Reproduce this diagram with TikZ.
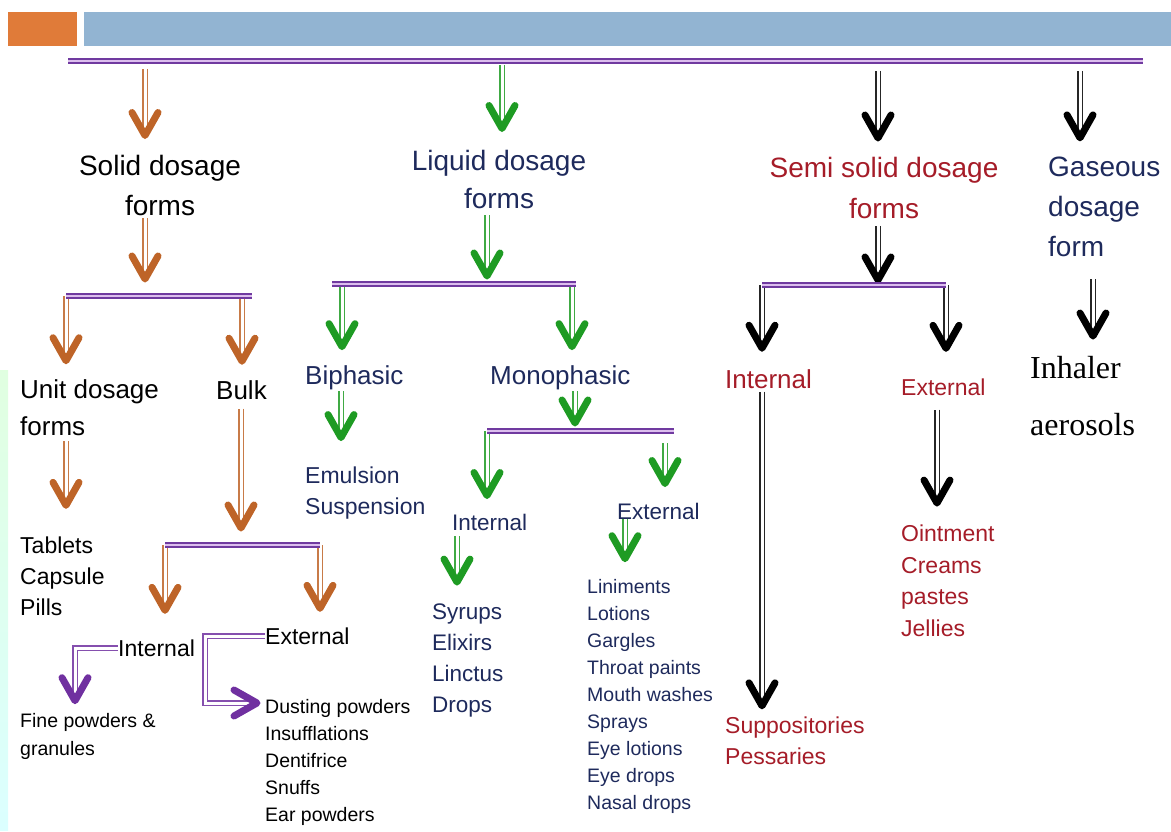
\documentclass[tikz,border=0pt]{standalone}
\usepackage{fontspec}
\setmainfont{Liberation Sans}
\newfontfamily\serifo{Liberation Serif}
\usetikzlibrary{calc,decorations.markings}
\definecolor{cabec}{RGB}{224,123,57}
\definecolor{faixa}{RGB}{146,180,210}
\definecolor{barra}{RGB}{112,58,160}
\definecolor{barrain}{RGB}{220,190,238}
\definecolor{laranja}{RGB}{190,100,40}
\definecolor{verde}{RGB}{30,155,35}
\definecolor{roxo}{RGB}{112,48,160}
\definecolor{azulesc}{RGB}{30,42,92}
\definecolor{vermesc}{RGB}{165,28,40}
\tikzset{
    ponta/.style={postaction={decorate, decoration={markings,
        mark=at position 1 with {\draw[#1, line width=7pt, line cap=round, line join=round]
            (-23pt,13pt) -- (0pt,0pt) -- (-23pt,-13pt);}}}},
    seta/.style={draw=#1!85!white, line width=1.4pt, double=white, double distance=3pt, ponta=#1},
    barrahor/.style={draw=barra, line width=1.7pt, double=barrain, double distance=2.6pt},
    rotulo/.style={inner xsep=0pt, inner ysep=9pt, anchor=west, align=left},
    titulo/.style={inner xsep=0pt, inner ysep=9pt, align=center}
}

\begin{document}
\begin{tikzpicture}[x=1pt, y=-1pt]
    \useasboundingbox (0,0) rectangle (1171,832);
    % cabecalho
    \fill[cabec] (8,12) rectangle (77,46);
    \fill[faixa] (84,12) rectangle (1171,46);
    \shade[top color=green!12, bottom color=cyan!14] (0,370) rectangle (8,830);

    % barras
    \coordinate (t1) at (68,61);   \coordinate (t2) at (1143,61);
    \coordinate (s1) at (66,296);  \coordinate (s2) at (252,296);
    \coordinate (k1) at (165,545); \coordinate (k2) at (320,545);
    \coordinate (l1) at (332,284); \coordinate (l2) at (576,284);
    \coordinate (m1) at (487,431); \coordinate (m2) at (674,431);
    \coordinate (e1) at (762,285); \coordinate (e2) at (946,285);

    % solidas
    \node[titulo, font=\fontsize{28}{40}\selectfont] (solid) at (160,185) {Solid dosage\\forms};
    \node[rotulo, font=\fontsize{26}{37}\selectfont] (unit) at (20,408) {Unit dosage\\forms};
    \node[rotulo, font=\fontsize{26}{37}\selectfont] (bulk) at (216,390) {Bulk};
    \node[rotulo, font=\fontsize{23}{31}\selectfont] (tabs) at (20,576) {Tablets\\Capsule\\Pills};
    \node[rotulo, font=\fontsize{23}{31}\selectfont] (intb) at (118,648) {Internal};
    \node[rotulo, font=\fontsize{23}{31}\selectfont] (extb) at (265,636) {External};
    \node[rotulo, font=\fontsize{19.5}{28}\selectfont] (fine) at (20,736) {Fine powders \&\\granules};
    \node[rotulo, font=\fontsize{19.5}{27}\selectfont] (dust) at (265,762)
        {Dusting powders\\Insufflations\\Dentifrice\\Snuffs\\Ear powders};

    % liquidas
    \node[titulo, text=azulesc, font=\fontsize{28}{38}\selectfont] (liquid) at (499,179) {Liquid dosage\\forms};
    \node[rotulo, text=azulesc, font=\fontsize{26}{37}\selectfont] (biph) at (305,378) {Biphasic};
    \node[rotulo, text=azulesc, font=\fontsize{26}{37}\selectfont] (mono) at (490,378) {Monophasic};
    \node[rotulo, text=azulesc, font=\fontsize{23}{31}\selectfont] (emul) at (305,493) {Emulsion\\Suspension};
    \node[rotulo, text=azulesc, font=\fontsize{22.5}{31}\selectfont] (lint) at (452,522) {Internal};
    \node[rotulo, text=azulesc, font=\fontsize{22.5}{31}\selectfont] (lext) at (617,511) {External};
    \node[rotulo, text=azulesc, font=\fontsize{22.5}{31}\selectfont] (syr) at (432,660)
        {Syrups\\Elixirs\\Linctus\\Drops};
    \node[rotulo, text=azulesc, font=\fontsize{19.5}{27}\selectfont] (lin) at (587,696)
        {Liniments\\Lotions\\Gargles\\Throat paints\\Mouth washes\\Sprays\\Eye lotions\\Eye drops\\Nasal drops};

    % semissolidas
    \node[titulo, text=vermesc, font=\fontsize{28}{41}\selectfont] (semi) at (884,188) {Semi solid dosage\\forms};
    \node[rotulo, text=vermesc, font=\fontsize{26}{37}\selectfont] (sint) at (725,379) {Internal};
    \node[rotulo, text=vermesc, font=\fontsize{23}{31}\selectfont] (sext) at (901,387) {External};
    \node[rotulo, text=vermesc, font=\fontsize{23}{31.5}\selectfont] (oint) at (901,581)
        {Ointment\\Creams\\pastes\\Jellies};
    \node[rotulo, text=vermesc, font=\fontsize{23}{31}\selectfont] (supp) at (725,741) {Suppositories\\Pessaries};

    % gasosas
    \node[rotulo, text=azulesc, font=\fontsize{28}{40}\selectfont] (gas) at (1048,207) {Gaseous\\dosage\\form};
    \node[rotulo, font=\serifo\fontsize{32}{57}\selectfont] (inh) at (1030,396) {Inhaler\\aerosols};

    % setas do topo
    \draw[seta=laranja] ($(145,0 |- t1)+(0,8)$) -- ($(145,0 |- solid.north)+(0,-10)$);
    \draw[seta=verde] ($(502,0 |- t1)+(0,4)$) -- ($(502,0 |- liquid.north)+(0,-12)$);
    \draw[seta=black] ($(878,0 |- t1)+(0,10)$) -- ($(878,0 |- semi.north)+(0,-10)$);
    \draw[seta=black] ($(1080,0 |- t1)+(0,10)$) -- ($(1080,0 |- gas.north)+(0,-10)$);

    % solidas
    \draw[seta=laranja] ($(145,0 |- solid.south)+(0,-6)$) -- ($(145,0 |- s1)+(0,-17)$);
    \draw[seta=laranja] (s1) -- ($(66,0 |- unit.north)+(0,-10)$);
    \draw[seta=laranja] (242,0 |- s1) -- ($(242,0 |- bulk.north)+(0,-10)$);
    \draw[seta=laranja] ($(66,0 |- unit.south)+(0,-4)$) -- ($(66,0 |- tabs.north)+(0,-22)$);
    \draw[seta=laranja] (241,0 |- bulk.south) -- ($(241,0 |- k1)+(0,-17)$);
    \draw[seta=laranja] (k1) -- ($(165,0 |- intb.north)+(0,-20)$);
    \draw[seta=laranja] (k2) -- ($(320,0 |- extb.north)+(0,-10)$);
    \draw[seta=roxo] (intb.west) -- (75,0 |- intb.west) -- ($(75,0 |- fine.north)+(0,-3)$);
    \draw[seta=roxo] (extb.west) -- (205,0 |- extb.west) -- (205,703) -- ($(dust.west |- 205,703)+(-8,0)$);

    % liquidas
    \draw[seta=verde] ($(487,0 |- liquid.south)+(0,-2)$) -- ($(487,0 |- l1)+(0,-8)$);
    \draw[seta=verde] (342,0 |- l1) -- ($(342,0 |- biph.north)+(0,-10)$);
    \draw[seta=verde] (572,0 |- l1) -- ($(572,0 |- mono.north)+(0,-10)$);
    \draw[seta=verde] ($(341,0 |- biph.south)+(0,-8)$) -- ($(341,0 |- emul.north)+(0,-20)$);
    \draw[seta=verde] ($(575,0 |- mono.south)+(0,-8)$) -- ($(575,0 |- m1)+(0,-8)$);
    \draw[seta=verde] (m1) -- ($(487,0 |- lint.north)+(0,-9)$);
    \draw[seta=verde] ($(665,0 |- m1)+(0,12)$) -- ($(665,0 |- lext.north)+(0,-10)$);
    \draw[seta=verde] ($(457,0 |- lint.south)+(0,-3)$) -- ($(457,0 |- syr.north)+(0,-12)$);
    \draw[seta=verde] ($(625,0 |- lext.south)+(0,-9)$) -- ($(625,0 |- lin.north)+(0,-11)$);

    % semissolidas
    \draw[seta=black] ($(878,0 |- semi.south)+(0,-2)$) -- ($(878,0 |- e1)+(0,-5)$);
    \draw[seta=black] (e1) -- ($(762,0 |- sint.north)+(0,-12)$);
    \draw[seta=black] (e2) -- ($(946,0 |- sext.north)+(0,-21)$);
    \draw[seta=black] ($(762,0 |- sint.south)+(0,-6)$) -- ($(762,0 |- supp.north)+(0,-2)$);
    \draw[seta=black] ($(937,0 |- sext.south)+(0,5)$) -- ($(937,0 |- oint.north)+(0,-13)$);

    % gasosas
    \draw[seta=black] ($(1093,0 |- gas.south)+(0,13)$) -- ($(1093,0 |- inh.north)+(0,-11)$);

    % barras horizontais
    \draw[barrahor] (t1) -- (t2);
    \draw[barrahor] (s1) -- (s2);
    \draw[barrahor] (k1) -- (k2);
    \draw[barrahor] (l1) -- (l2);
    \draw[barrahor] (m1) -- (m2);
    \draw[barrahor] (e1) -- (e2);
\end{tikzpicture}
\end{document}
